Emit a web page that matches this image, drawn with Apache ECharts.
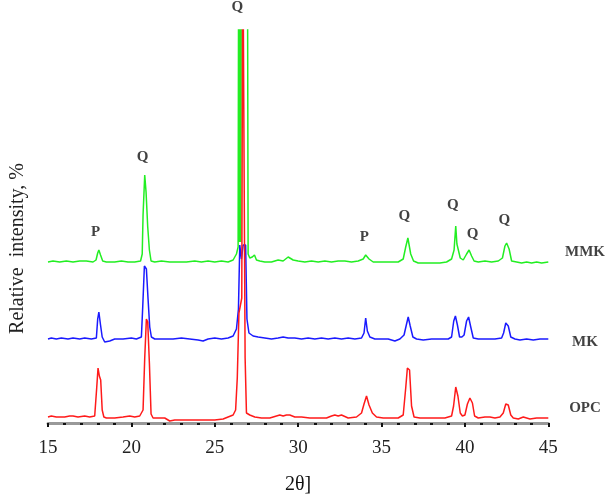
<!DOCTYPE html>
<html>
<head>
<meta charset="utf-8">
<script src="https://cdn.jsdelivr.net/npm/echarts@6/dist/echarts.min.js"></script>
<style>
  html, body { margin: 0; padding: 0; background: #fff; }
  #xrd-chart { width: 609px; height: 502px; }
</style>
</head>
<body>
<div id="xrd-chart"></div>
<script>
// 2theta positions and intensities (arbitrary units)
const opcX = [15, 15.2, 15.5, 16, 16.3, 16.5, 16.8, 17.2, 17.5, 17.8, 17.92, 18.0, 18.08, 18.16, 18.25, 18.35, 18.5, 19, 19.5, 19.9, 20.2, 20.5, 20.7, 20.8, 20.9, 20.98, 21.08, 21.18, 21.3, 21.6, 22.0, 22.3, 22.6, 23, 23.5, 24, 24.5, 25, 25.5, 25.8, 26.1, 26.25, 26.35, 26.45, 26.62, 26.68, 26.76, 26.82, 26.9, 27.1, 27.4, 27.8, 28.3, 28.7, 28.9, 29.1, 29.3, 29.5, 29.8, 30.2, 30.7, 31.2, 31.7, 32.0, 32.2, 32.4, 32.6, 33.0, 33.5, 33.8, 33.95, 34.1, 34.25, 34.45, 34.7, 35.1, 35.6, 36.0, 36.3, 36.45, 36.55, 36.68, 36.8, 36.95, 37.3, 37.8, 38.3, 38.8, 39.2, 39.32, 39.45, 39.58, 39.72, 39.85, 40.0, 40.15, 40.3, 40.45, 40.58, 40.8, 41.2, 41.5, 41.8, 42.1, 42.3, 42.45, 42.6, 42.75, 42.9, 43.2, 43.5, 43.9, 44.3, 44.7, 45]
const opcY = [1, 2, 1, 1, 2, 2, 1, 2, 1, 2, 30, 50, 42, 38, 8, 1, 0, 0, 1, 2, 1, 2, 8, 60, 99, 96, 55, 4, 0, 0, 0, -3, -2, -2, -2, -2, -2, -2, -1, 1, 3, 8, 40, 105, 120, 500, 500, 60, 5, 3, 1, 0, 0, 2, 3, 2, 3, 3, 1, 1, 0, 0, 0, 2, 3, 2, 3, 0, 1, 5, 14, 22, 13, 5, 1, 0, 0, 0, 3, 30, 50, 48, 12, 1, 0, 0, 0, 0, 2, 12, 31, 22, 5, 2, 3, 14, 20, 15, 2, 0, 1, 1, 0, 1, 5, 14, 13, 3, 0, -1, 1, -1, 0, 0, 0]

const mkX = [15, 15.2, 15.5, 15.8, 16.2, 16.5, 16.9, 17.2, 17.6, 17.9, 17.98, 18.05, 18.15, 18.25, 18.4, 18.7, 19.0, 19.5, 20.0, 20.3, 20.6, 20.68, 20.78, 20.9, 21.0, 21.1, 21.2, 21.4, 22, 22.5, 23, 23.5, 24, 24.3, 24.6, 25, 25.4, 25.8, 26.1, 26.3, 26.42, 26.5, 26.6, 26.7, 26.85, 26.93, 27.05, 27.3, 27.6, 28, 28.4, 28.8, 29.1, 29.4, 29.8, 30.2, 30.6, 31, 31.4, 31.8, 32.2, 32.6, 33, 33.4, 33.8, 33.95, 34.05, 34.15, 34.3, 34.6, 35, 35.4, 35.8, 36.1, 36.35, 36.5, 36.6, 36.72, 36.88, 37.1, 37.5, 38, 38.5, 39, 39.2, 39.33, 39.43, 39.55, 39.68, 39.82, 39.95, 40.1, 40.22, 40.35, 40.5, 40.8, 41.3, 41.8, 42.2, 42.32, 42.45, 42.6, 42.75, 43, 43.3, 43.7, 44.1, 44.5, 45]
const mkY = [0, 1, 0, 1, 0, 1, 0, 1, 0, 1, 20, 27, 14, 2, -3, -2, 0, 0, 1, 0, 2, 32, 73, 70, 40, 12, 2, 0, 0, 0, 1, 0, -1, -2, 0, 1, 0, 1, 3, 10, 30, 94, 80, 94, 94, 20, 6, 3, 2, 1, 0, 1, 2, 1, 1, 0, 1, 0, 1, 0, 1, 0, 1, 0, 1, 6, 21, 8, 2, 0, 0, 0, -2, 0, 4, 15, 22, 13, 2, 0, -1, 0, 0, 0, 2, 18, 23, 14, 2, 2, 4, 18, 22, 12, 1, 0, 0, 0, 1, 6, 16, 13, 2, 0, -1, 0, -1, 0, 0]

const mmkX = [15, 15.3, 15.7, 16.1, 16.5, 16.9, 17.3, 17.7, 17.88, 17.98, 18.05, 18.15, 18.28, 18.5, 19, 19.4, 19.8, 20.2, 20.55, 20.65, 20.7, 20.8, 20.88, 20.98, 21.08, 21.18, 21.4, 21.8, 22.3, 22.8, 23.3, 23.8, 24.2, 24.6, 25.0, 25.4, 25.8, 26.1, 26.3, 26.4, 26.44, 26.48, 26.52, 26.56, 26.6, 26.64, 26.95, 27.0, 27.1, 27.25, 27.38, 27.5, 27.7, 28.0, 28.4, 28.8, 29.1, 29.4, 29.7, 30.0, 30.4, 30.8, 31.2, 31.6, 32.0, 32.4, 32.8, 33.2, 33.6, 33.9, 34.05, 34.25, 34.5, 35, 35.5, 36.0, 36.3, 36.45, 36.58, 36.75, 36.92, 37.2, 37.6, 38.0, 38.5, 38.9, 39.2, 39.35, 39.45, 39.52, 39.6, 39.72, 39.9, 40.1, 40.25, 40.4, 40.55, 40.8, 41.2, 41.6, 42.0, 42.25, 42.4, 42.5, 42.65, 42.8, 43.1, 43.4, 43.7, 44.0, 44.3, 44.6, 45]
const mmkY = [0, 1, 0, 1, 0, 1, 1, 0, 2, 9, 12, 7, 1, 0, 0, 1, 0, 0, 1, 8, 47, 87, 70, 35, 12, 1, 0, 1, 0, 0, 0, 1, 0, 1, 0, 1, 0, 2, 8, 15, 400, 20, 400, 20, 400, 400, 400, 8, 4, 5, 7, 2, 1, 0, 0, 2, 1, 5, 2, 1, 0, 1, 0, 1, 0, 1, 1, 0, 1, 3, 7, 3, 0, 0, 0, 0, 3, 15, 24, 8, 1, -1, -1, -1, -1, 0, 3, 12, 36, 18, 19, 4, 2, 8, 12, 6, 1, 0, 1, 0, 1, 4, 16, 19, 13, 1, 0, -1, 0, -1, 0, -1, 0]

// vertical shift of each pattern in the stacked plot
const traceOffsets = { OPC: 5, MK: 84, MMK: 161 }

// phase labels (P = portlandite, Q = quartz)
const phaseText = ['P', 'Q', 'Q', 'P', 'Q', 'Q', 'Q', 'Q']
const phaseX = [17.86, 20.67, 26.35, 33.97, 36.36, 39.27, 40.46, 42.36]
const phaseY = [191, 266, 416, 186, 207, 218, 189, 203]

const sampleText = ['MMK', 'MK', 'OPC']
const sampleX = [47.2, 47.2, 47.2]
const sampleY = [171, 81, 15]

const xTicks = { min: 15, max: 45, interval: 5 }

const toPairs = (xs, ys, offset) => xs.map((x, i) => [x, ys[i] + offset])
const toLabels = (texts, xs, ys) => texts.map((t, i) => ({ name: t, value: [xs[i], ys[i]] }))

const chart = echarts.init(document.getElementById('xrd-chart'))

const lineSeries = (name, data, color) => ({
  name,
  type: 'line',
  data,
  showSymbol: false,
  clip: true,
  silent: true,
  lineStyle: { width: 1.5, color },
})

const labelSeries = (data) => ({
  type: 'scatter',
  data,
  symbolSize: 0,
  clip: false,
  silent: true,
  label: {
    show: true,
    position: 'inside',
    formatter: '{b}',
    fontFamily: 'Liberation Serif',
    fontWeight: 'bold',
    fontSize: 15,
    color: '#111',
  },
})

const option = {
  animation: false,
  backgroundColor: '#fff',
  grid: {
    left: 43.5,
    right: 60.7,
    top: 30,
    bottom: 79,
  },
  xAxis: {
    type: 'value',
    min: xTicks.min,
    max: xTicks.max,
    interval: xTicks.interval,
    name: '2θ]',
    nameLocation: 'middle',
    nameGap: 52,
    nameTextStyle: { fontFamily: 'Liberation Serif', fontSize: 20, color: '#111' },
    axisLine: { lineStyle: { color: '#999', width: 3 } },
    axisTick: { show: true, length: 4, lineStyle: { color: '#111', width: 2 } },
    minorTick: { show: true, splitNumber: 5, length: 2, lineStyle: { color: '#111', width: 3 } },
    axisLabel: { margin: 16, fontFamily: 'Liberation Serif', fontSize: 19, color: '#222' },
    splitLine: { show: false },
  },
  yAxis: {
    type: 'value',
    min: 0,
    max: 393,
    name: 'Relative  intensity, %',
    nameLocation: 'middle',
    nameGap: 20,
    // right padding pushes the rotated title down to sit beside the patterns
    nameTextStyle: { fontFamily: 'Liberation Serif', fontSize: 20, color: '#222', padding: [0, 44, 0, 0] },
    axisLine: { show: false },
    axisTick: { show: false },
    axisLabel: { show: false },
    splitLine: { show: false },
  },
  series: [
    lineSeries('MK', toPairs(mkX, mkY, traceOffsets.MK), '#1a1aff'),
    lineSeries('MMK', toPairs(mmkX, mmkY, traceOffsets.MMK), '#22ee22'),
    lineSeries('OPC', toPairs(opcX, opcY, traceOffsets.OPC), '#ff1a1a'),
    labelSeries(toLabels(phaseText, phaseX, phaseY)),
    labelSeries(toLabels(sampleText, sampleX, sampleY)),
  ],
}

chart.setOption(option)
</script>
</body>
</html>
